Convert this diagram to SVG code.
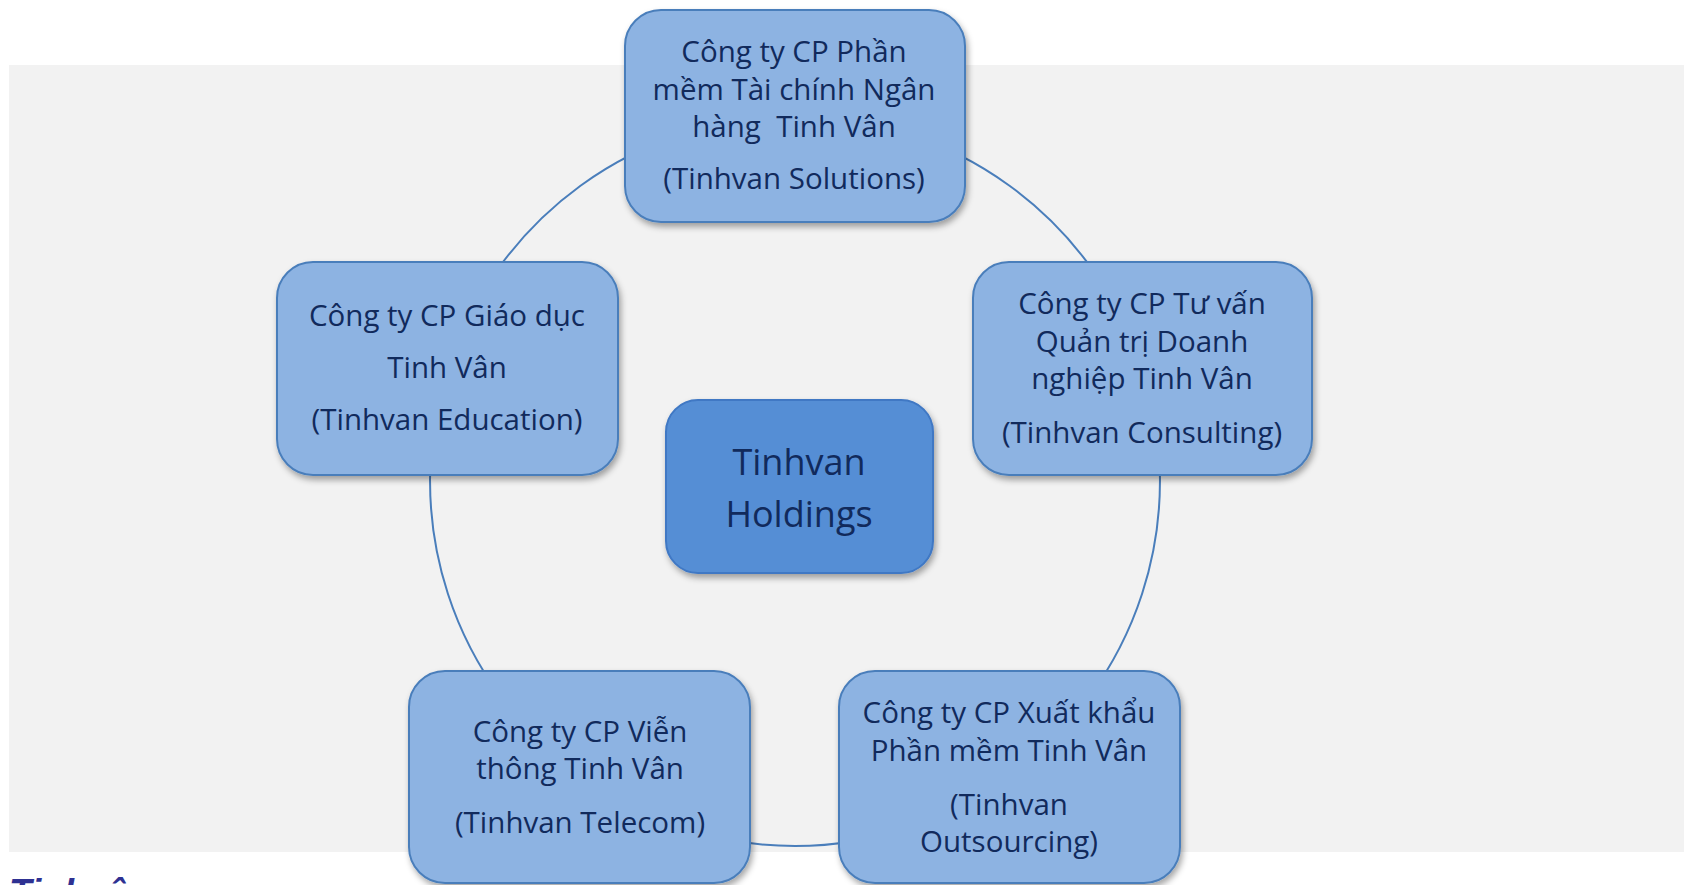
<svg xmlns="http://www.w3.org/2000/svg" width="1684" height="885" viewBox="0 0 1684 885">
<defs>
<filter id="sh" x="-10%" y="-10%" width="125%" height="130%">
<feDropShadow dx="2" dy="4" stdDeviation="3" flood-color="#000" flood-opacity="0.35"/>
</filter>
<style>
.n rect{fill:#8db3e2;stroke:#4a7ebb;stroke-width:2;filter:url(#sh)}
.c rect{fill:#558ed5;stroke:#3f78c4;stroke-width:2;filter:url(#sh)}
text{font-family:"Open Sans","Noto Sans",sans-serif;fill:#112a5c;text-anchor:middle}
.n text{font-size:29.5px}
.c text{font-size:36px}
.arc{fill:none;stroke:#4a7ebb;stroke-width:2}
</style>
</defs>
<rect x="0" y="0" width="1684" height="885" fill="#ffffff"/>
<rect x="9" y="65" width="1675" height="787" fill="#f2f2f2"/>
<text x="9" y="905" style="font-family:'Liberation Sans',Arial,sans-serif;font-size:37px;font-weight:bold;font-style:italic;fill:#2e3192;text-anchor:start">Tinhvân</text>
<g id="connectors">
<path class="arc" d="M795,116 A365,365 0 0 1 1142.1,368.2"/>
<path class="arc" d="M1142.1,368.2 A365,365 0 0 1 1009.5,776.3"/>
<path class="arc" d="M1009.5,776.3 A365,365 0 0 1 580.5,776.3"/>
<path class="arc" d="M580.5,776.3 A365,365 0 0 1 447.9,368.2"/>
<path class="arc" d="M447.9,368.2 A365,365 0 0 1 795,116"/>
</g>
<g id="center" class="c">
<rect x="666" y="400" width="267" height="173" rx="32"/>
<text x="799" y="475">Tinhvan</text>
<text x="799" y="527">Holdings</text>
</g>
<g id="solutions" class="n">
<rect x="625" y="10" width="340" height="212" rx="36"/>
<text x="794" y="62">Công ty CP Phần</text>
<text x="794" y="100">mềm Tài chính Ngân</text>
<text x="794" y="137" xml:space="preserve">hàng  Tinh Vân</text>
<text x="794" y="189">(Tinhvan Solutions)</text>
</g>
<g id="consulting" class="n">
<rect x="973" y="262" width="339" height="213" rx="36"/>
<text x="1142" y="314">Công ty CP Tư vấn</text>
<text x="1142" y="352">Quản trị Doanh</text>
<text x="1142" y="389">nghiệp Tinh Vân</text>
<text x="1142" y="443">(Tinhvan Consulting)</text>
</g>
<g id="outsourcing" class="n">
<rect x="839" y="671" width="341" height="212" rx="36"/>
<text x="1009" y="723">Công ty CP Xuất khẩu</text>
<text x="1009" y="761">Phần mềm Tinh Vân</text>
<text x="1009" y="815">(Tinhvan</text>
<text x="1009" y="852">Outsourcing)</text>
</g>
<g id="telecom" class="n">
<rect x="409" y="671" width="341" height="212" rx="36"/>
<text x="580" y="742">Công ty CP Viễn</text>
<text x="580" y="779">thông Tinh Vân</text>
<text x="580" y="833">(Tinhvan Telecom)</text>
</g>
<g id="education" class="n">
<rect x="277" y="262" width="341" height="213" rx="36"/>
<text x="447" y="326">Công ty CP Giáo dục</text>
<text x="447" y="378">Tinh Vân</text>
<text x="447" y="430">(Tinhvan Education)</text>
</g>
</svg>
